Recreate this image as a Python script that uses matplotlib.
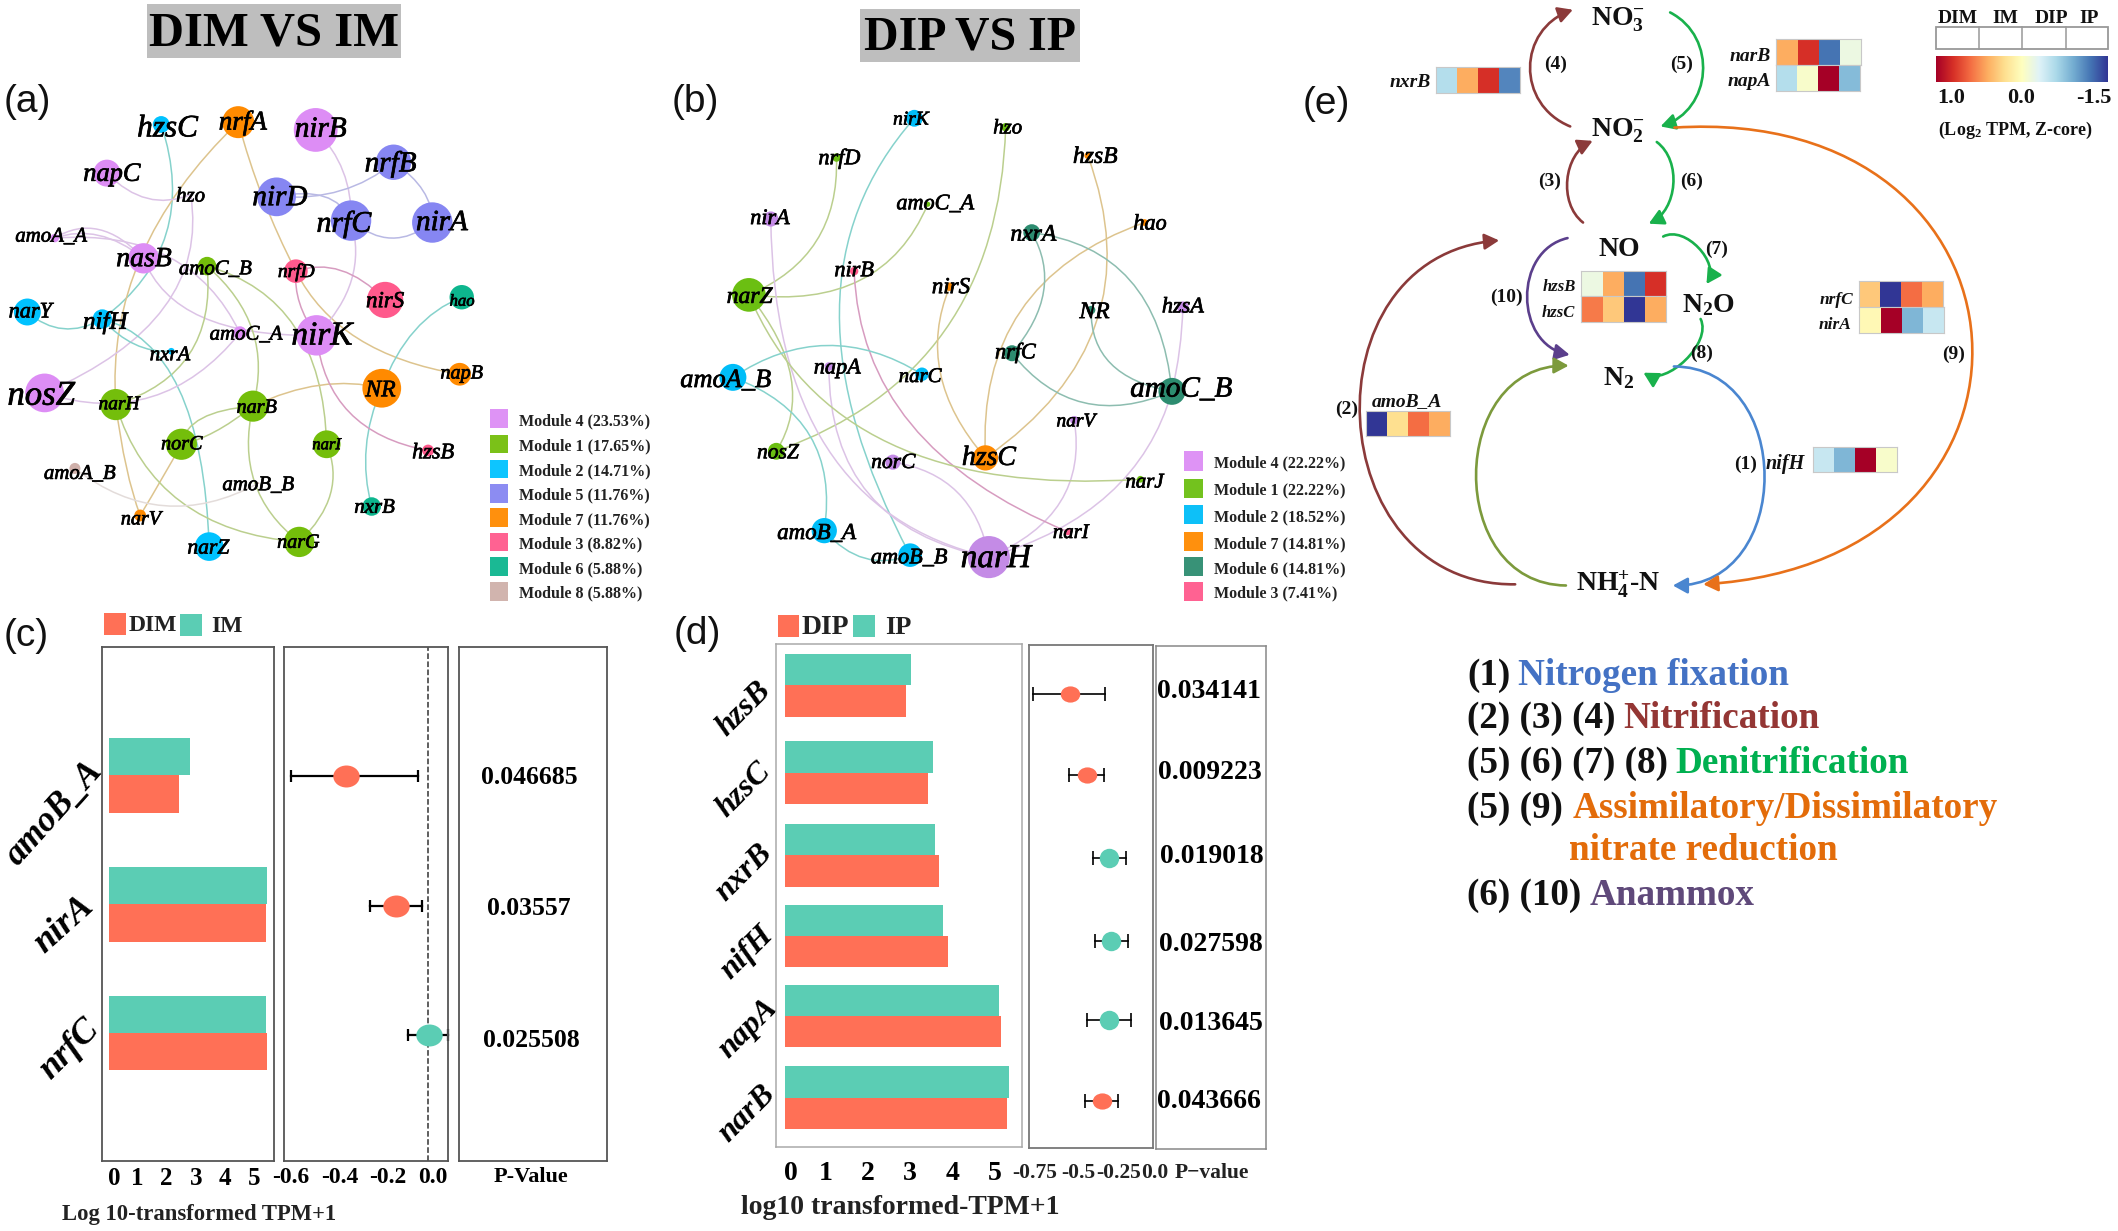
import matplotlib
matplotlib.use("Agg")
import matplotlib.pyplot as plt
import numpy as np
from matplotlib.path import Path
from matplotlib.patches import PathPatch, FancyArrowPatch, Rectangle, Circle
from matplotlib import patheffects as pe

plt.rcParams['font.family'] = ['Liberation Serif', 'DejaVu Serif']
plt.rcParams['mathtext.fontset'] = 'custom'
plt.rcParams['mathtext.bf'] = 'Liberation Serif:bold'
plt.rcParams['mathtext.rm'] = 'Liberation Serif:bold'
plt.rcParams['mathtext.it'] = 'Liberation Serif:italic:bold'

W, H = 2118, 1231

# ---------- data ----------
a_legend = ['Module 4 (23.53%)', 'Module 1 (17.65%)', 'Module 2 (14.71%)', 'Module 5 (11.76%)',
            'Module 7 (11.76%)', 'Module 3 (8.82%)', 'Module 6 (5.88%)', 'Module 8 (5.88%)']
b_legend = ['Module 4 (22.22%)', 'Module 1 (22.22%)', 'Module 2 (18.52%)', 'Module 7 (14.81%)',
            'Module 6 (14.81%)', 'Module 3 (7.41%)']
a_modules = {4: ['napC', 'nirB', 'amoA_A', 'nasB', 'amoC_A', 'nirK', 'nosZ'],
             1: ['amoC_B', 'narH', 'narB', 'norC', 'narI', 'narG'],
             2: ['hzsC', 'narY', 'nifH', 'nxrA', 'narZ'],
             5: ['nrfB', 'nirD', 'nrfC', 'nirA'],
             7: ['nrfA', 'napB', 'NR', 'narV'],
             3: ['nrfD', 'nirS', 'hzsB'],
             6: ['hao', 'nxrB'],
             8: ['amoA_B', 'amoB_B'],
             0: ['hzo']}
b_modules = {4: ['nirA', 'hzsA', 'napA', 'narV', 'norC', 'narH'],
             1: ['hzo', 'nrfD', 'amoC_A', 'narZ', 'nosZ', 'narJ'],
             2: ['nirK', 'narC', 'amoA_B', 'amoB_A', 'amoB_B'],
             7: ['hzsB', 'hao', 'nirS', 'hzsC'],
             6: ['nxrA', 'NR', 'nrfC', 'amoC_B'],
             3: ['nirB', 'narI']}

c_genes = ['amoB_A', 'nirA', 'nrfC']
c_dim = [2.44, 5.43, 5.45]
c_im = [2.79, 5.44, 5.42]
c_diff = [-0.36, -0.139, 0.002]
c_low = [-0.60, -0.255, -0.09]
c_high = [-0.046, -0.025, 0.086]
c_pval = ['0.046685', '0.03557', '0.025508']

d_genes = ['hzsB', 'hzsC', 'nxrB', 'nifH', 'napA', 'narB']
d_dip = [2.89, 3.41, 3.66, 3.88, 5.14, 5.29]
d_ip = [3.00, 3.52, 3.57, 3.76, 5.09, 5.32]
d_diff = [-0.53, -0.425, -0.287, -0.269, -0.282, -0.33]
d_low = [-0.76, -0.537, -0.384, -0.371, -0.42, -0.435]
d_high = [-0.31, -0.315, -0.179, -0.166, -0.146, -0.228]
d_pval = ['0.034141', '0.009223', '0.019018', '0.027598', '0.013645', '0.043666']

heat_nxrB = [[-0.7, 0.25, 0.75, -1.17]]
heat_narB = [[0.25, 0.75, -1.25, -0.4]]
heat_napA = [[-0.7, -0.3, 1.0, -0.92]]
heat_hzsB = [[-0.4, 0.25, -1.25, 0.75]]
heat_hzsC = [[0.45, 0.12, -1.5, 0.25]]
heat_nrfC = [[0.12, -1.5, 0.5, 0.25]]
heat_nirA = [[-0.2, 1.0, -0.95, -0.62]]
heat_amoB_A = [[-1.5, 0.0, 0.5, 0.25]]
heat_nifH = [[-0.62, -0.95, 1.0, -0.3]]

# ---------- layout (image coordinates of zoomed crops) ----------
a_xy = dict(hzsC=(383, 320, 20, 398, 325, 22.5), nrfA=(566, 314, 38, 577, 310, 19.5), nirB=(750, 334, 52, 762, 327, 21),
            nrfB=(935, 417, 42, 928, 415, 21), napC=(254, 445, 32, 266, 443, 19), hzo=(453, 500, 0, 453, 500, 15),
            nirD=(657, 506, 46, 665, 503, 21), nrfC=(834, 567, 48, 817, 570, 21.5), nirA=(1027, 572, 48, 1050, 567, 21),
            amoA_A=(130, 612, 10, 122, 603, 15), nasB=(341, 664, 36, 342, 661, 20), amoC_B=(492, 684, 22, 512, 687, 15),
            nrfD=(703, 697, 28, 704, 693, 14), nirS=(915, 771, 43, 915, 769, 16.5), hao=(1097, 764, 29, 1098, 769, 12),
            narY=(65, 802, 32, 72, 798, 16), nifH=(243, 820, 23, 250, 822, 18), amoC_A=(570, 856, 16, 585, 855, 15),
            nirK=(752, 862, 48, 765, 858, 24), nxrA=(407, 903, 8, 404, 908, 15), napB=(1092, 962, 27, 1097, 955, 14.5),
            NR=(907, 998, 46, 904, 998, 17), nosZ=(106, 1010, 46, 98, 1012, 25), narH=(275, 1040, 37, 283, 1034, 14),
            narB=(601, 1044, 37, 610, 1043, 14.5), norC=(431, 1142, 37, 432, 1137, 14.5), narI=(776, 1142, 33, 776, 1138, 12),
            hzsB=(1017, 1158, 14, 1029, 1160, 16), amoA_B=(178, 1204, 13, 190, 1213, 15), amoB_B=(614, 1242, 2, 614, 1242, 15),
            narV=(333, 1325, 14, 335, 1330, 14.5), nxrB=(883, 1302, 22, 890, 1300, 15), narZ=(497, 1405, 34, 495, 1405, 15.5),
            narG=(711, 1393, 36, 709, 1390, 14.5))
b_xy = dict(nirK=(628, 304, 20, 620, 302, 14), hzo=(845, 327, 10, 850, 325, 15), nrfD=(443, 405, 10, 450, 403, 16),
            hzsB=(1040, 400, 8, 1058, 398, 17), nirA=(287, 563, 18, 285, 558, 16), amoC_A=(660, 525, 6, 678, 520, 16),
            hao=(1175, 572, 8, 1188, 572, 16), nxrA=(907, 598, 20, 911, 598, 17), nirB=(485, 697, 10, 485, 692, 16),
            nirS=(712, 737, 10, 715, 733, 16.5), narZ=(235, 758, 40, 237, 758, 17), hzsA=(1266, 790, 14, 1266, 785, 16),
            NR=(1048, 797, 10, 1056, 797, 17), nrfC=(860, 908, 19, 868, 902, 16), napA=(425, 942, 10, 445, 942, 16),
            narC=(646, 962, 16, 642, 964, 15), amoA_B=(197, 970, 32, 180, 973, 19), amoC_B=(1240, 1006, 32, 1262, 995, 21),
            narV=(1008, 1080, 10, 1012, 1078, 14), nosZ=(300, 1160, 20, 304, 1160, 15.5), hzsC=(797, 1177, 30, 805, 1172, 20),
            norC=(577, 1188, 18, 578, 1185, 15.5), narJ=(1165, 1232, 8, 1175, 1235, 15), amoB_A=(414, 1364, 30, 396, 1365, 16.5),
            narI=(993, 1367, 8, 1000, 1365, 15), amoB_B=(618, 1427, 28, 616, 1430, 16), narH=(805, 1432, 50, 822, 1430, 24))

PUR, TAN, TEA, BLU, OLI, PNK, GRY = '#DCC3E6', '#DDC48E', '#86D2CC', '#B9B9E4', '#BBCF8E', '#D79CC0', '#E3DCDA'
a_edges = [('hzsC', 'nifH', 395, 600, TEA), ('nrfA', 'narH', 335, 660, TAN), ('nrfA', 'nrfD', 625, 510, TAN),
           ('nrfD', 'napB', 850, 870, TAN), ('nirB', 'nrfC', 815, 440, PUR), ('nrfB', 'nirD', 810, 490, BLU),
           ('nrfB', 'nirA', 1005, 490, BLU), ('nirD', 'nrfC', 770, 505, BLU), ('nrfC', 'nirA', 930, 612, BLU),
           ('nrfC', 'nirK', 835, 720, PUR), ('napC', 'hzo', 350, 510, PUR), ('hzo', 'nosZ', 390, 790, PUR),
           ('amoA_A', 'nasB', 235, 590, PUR), ('amoA_A', 'nasB', 235, 605, PUR), ('amoA_A', 'amoC_A', 400, 660, PUR),
           ('nasB', 'nirK', 480, 815, PUR), ('amoC_B', 'narB', 600, 850, OLI), ('amoC_B', 'narH', 450, 910, OLI),
           ('amoC_B', 'narI', 700, 840, OLI), ('nrfD', 'nirS', 810, 695, PNK), ('nrfD', 'nirK', 712, 780, PNK),
           ('hao', 'NR', 985, 850, TEA), ('NR', 'nxrB', 870, 1150, TEA), ('NR', 'narB', 760, 990, TAN),
           ('nirK', 'hzsB', 830, 1060, PNK), ('narY', 'nifH', 150, 845, TEA), ('nifH', 'nxrA', 320, 885, TEA),
           ('nifH', 'narZ', 425, 1000, TEA), ('amoC_A', 'nosZ', 360, 1020, PUR), ('narB', 'norC', 480, 1075, OLI),
           ('narB', 'norC', 510, 1110, OLI), ('narH', 'narV', 300, 1200, TAN), ('norC', 'narV', 385, 1230, TAN),
           ('narH', 'narG', 430, 1290, OLI), ('narB', 'narG', 605, 1240, OLI), ('narI', 'narG', 785, 1270, OLI),
           ('amoA_B', 'amoB_B', 390, 1300, GRY)]
b_edges = [('nirK', 'amoB_B', 450, 800, TEA), ('hzo', 'nosZ', 700, 850, OLI), ('nrfD', 'narZ', 395, 620, OLI),
           ('amoC_A', 'narZ', 500, 720, OLI), ('hzsB', 'hzsC', 1060, 830, TAN), ('hao', 'hzsC', 880, 800, TAN),
           ('nirS', 'hzsC', 690, 960, TAN), ('nxrA', 'nrfC', 935, 750, '#8DBDB0'), ('nxrA', 'amoC_B', 1140, 720, '#8DBDB0'),
           ('NR', 'amoC_B', 1095, 935, '#8DBDB0'), ('nrfC', 'amoC_B', 1030, 1035, '#8DBDB0'), ('hzsA', 'amoC_B', 1258, 900, PUR),
           ('amoC_B', 'narH', 1090, 1270, PUR), ('narV', 'narH', 975, 1290, PUR), ('norC', 'narH', 730, 1265, PUR),
           ('napA', 'narH', 520, 1270, PUR), ('nirA', 'narH', 420, 1150, PUR), ('nirB', 'narI', 620, 1090, PNK),
           ('narZ', 'nosZ', 335, 970, OLI), ('narZ', 'narJ', 570, 1140, OLI), ('amoA_B', 'narC', 420, 888, TEA),
           ('amoA_B', 'amoB_A', 380, 1120, TEA), ('amoB_A', 'amoB_B', 510, 1435, TEA)]

a_col = {4: '#DD8DF5', 1: '#74BE0B', 2: '#00C2FF', 5: '#8686F2', 7: '#FF8A00', 3: '#FF5A8C', 6: '#0DB68E', 8: '#CFB0AA', 0: '#FFFFFF'}
b_col = {4: '#C48BE6', 1: '#6BBF12', 2: '#00BDF8', 7: '#FF8A00', 6: '#2D8C70', 3: '#FF5A8C'}
b_key = {**b_col, 4: '#DD8DF5'}
CORAL, TEAL = '#FF7056', '#5BCDB4'
FX1, FY1 = 1568 / 660, 1568 / 610      # crop scale of panels a, b
FX3, FY3 = 1568 / 838, 1568 / 610      # crop scale of panel e
FX4, FY4 = 1568 / 640, 1568 / 631      # crop scale of panels c, d
TXT_DY = 2.5                            # centred text sits slightly high otherwise

fig = plt.figure(figsize=(W / 100, H / 100), dpi=100, facecolor='white')


def px_axes(x0, y0, x1, y1):
    return fig.add_axes([x0 / W, 1 - y1 / H, (x1 - x0) / W, (y1 - y0) / H])


ov = fig.add_axes([0, 0, 1, 1], zorder=0)
ov.set_xlim(0, W)
ov.set_ylim(H, 0)
ov.axis('off')
top = fig.add_axes([0, 0, 1, 1], zorder=5)
top.set_xlim(0, W)
top.set_ylim(H, 0)
top.axis('off')
top.patch.set_alpha(0)


def T(ax, x, y, s, **kw):
    return ax.text(x, y + TXT_DY, s, **kw)


def curve_via(ax, p0, via, p1, color, lw=1.1):
    p0, via, p1 = np.array(p0), np.array(via), np.array(p1)
    c = 2 * via - 0.5 * (p0 + p1)
    ax.add_patch(PathPatch(Path([p0, c, p1], [Path.MOVETO, Path.CURVE3, Path.CURVE3]),
                           fc='none', ec=color, lw=lw, zorder=2))


def network(xy, modules, cols, edges, ox):
    conv = lambda x, y: (ox + x / FX1, y / FY1)
    mod = {n: m for m, ns in modules.items() for n in ns}
    for a, b, vx, vy, c in edges:
        curve_via(ov, conv(*xy[a][:2]), conv(vx, vy), conv(*xy[b][:2]), c)
    for n, (x, y, r, lx, ly, fs) in xy.items():
        if r > 0:
            ov.add_patch(Circle(conv(x, y), r / FX1, fc=cols[mod[n]], ec='none', zorder=3))
        tx, ty = conv(lx, ly)
        T(ov, tx, ty, n, style='italic', fontsize=fs, ha='center', va='center', zorder=4, color='black',
          path_effects=[pe.withStroke(linewidth=0.5, foreground='black')])


network(a_xy, a_modules, a_col, a_edges, 0)
network(b_xy, b_modules, b_col, b_edges, 650)


def mod_legend(labels, col_keys, cols, sx, ys, size, tx, ox):
    for lab, k, y in zip(labels, col_keys, ys):
        ov.add_patch(Rectangle((ox + sx / FX1, y / FY1 - size / FX1 / 2), size / FX1, size / FX1, fc=cols[k], ec='none', alpha=.95))
        T(ov, ox + tx / FX1, y / FY1, lab, fontsize=11.5, fontweight='bold', ha='left', va='center', color='#222222')


mod_legend(a_legend, [4, 1, 2, 5, 7, 3, 6, 8], a_col, 1164, [1076, 1141, 1205, 1268, 1330, 1393, 1456, 1520], 44, 1232, 0)
mod_legend(b_legend, [4, 1, 2, 7, 6, 3], b_key, 1268, [1185, 1255, 1323, 1392, 1456, 1520], 46, 1340, 650)

# titles
for (x0, y0, x1, y1, s, fs) in [(147, 4, 401, 58, 'DIM VS IM', 35), (860, 9, 1080, 62, 'DIP VS IP', 34.5)]:
    ov.add_patch(Rectangle((x0, y0), x1 - x0, y1 - y0, fc='#BEBEBE', ec='none'))
    T(ov, (x0 + x1) / 2, (y0 + y1) / 2, s, fontsize=fs, fontweight='bold', ha='center', va='center', color='black')

for s, x, y in [('(a)', 27, 100), ('(b)', 695, 99), ('(c)', 26, 633), ('(d)', 697, 632), ('(e)', 1326, 102)]:
    T(ov, x, y, s, fontsize=28, family=['Liberation Sans'], ha='center', va='center', color='#111111')


def style_axes(ax, col, lw):
    for s in ax.spines.values():
        s.set_color(col)
        s.set_linewidth(lw)
    ax.tick_params(length=0)
    ax.set_yticks([])


def ellipse(wx, wy):
    return Path.unit_circle().transformed(matplotlib.transforms.Affine2D().scale(wx, wy))


# ---------- panel c ----------
z = lambda x, y: (x / FX4, 600 + y / FY4)
(x0, y0), (x1, y1) = z(249, 116), z(671, 1394)
ax = px_axes(x0, y0, x1, y1)
rows = np.arange(3)
ax.barh(rows - 0.145, c_im, 0.29, color=TEAL)
ax.barh(rows + 0.145, c_dim, 0.29, color=CORAL)
ax.set_xlim(-0.24, 5.69)
ax.set_ylim(2.994, -1.0)
style_axes(ax, '#555555', 1.3)
ax.set_xticks([0.21, 1, 2, 3, 4, 5], ['0', '1', '2', '3', '4', '5'], fontsize=18, fontweight='bold')
ax.tick_params(axis='x', pad=4)

(x0, y0), (x1, y1) = z(695, 116), z(1097, 1394)
ax = px_axes(x0, y0, x1, y1)
ax.axvline(0, color='#333333', ls='--', lw=1.1, zorder=1)
for i in rows:
    col = TEAL if c_diff[i] > 0 else CORAL
    ax.plot([c_low[i], c_high[i]], [i, i], color='black', lw=1.6, zorder=2, clip_on=False)
    for e in (c_low[i], c_high[i]):
        ax.plot([e], [i], marker='|', color='black', ms=8, mew=1.6, zorder=2, clip_on=False)
    ax.plot([c_diff[i]], [i], marker=ellipse(1.2, 1), ms=19, color=col, mec='none', zorder=3, clip_on=False)
ax.set_xlim(-0.631, 0.0856)
ax.set_ylim(2.969, -1.0)
style_axes(ax, '#555555', 1.3)
ax.set_xticks([-0.6, -0.384, -0.176, 0.02], ['-0.6', '-0.4', '-0.2', '0.0'], fontsize=17, fontweight='bold')
ax.tick_params(axis='x', pad=4)

(x0, y0), (x1, y1) = z(1124, 116), z(1488, 1394)
ax = px_axes(x0, y0, x1, y1)
style_axes(ax, '#555555', 1.3)
ax.set_xticks([])
for s, (x, y) in zip(c_pval, [(1298, 436), (1295, 760), (1303, 1088)]):
    T(top, *z(x, y), s, fontsize=18.5, fontweight='bold', ha='center', va='center')
T(ov, *z(1300, 1428), 'P-Value', fontsize=16, fontweight='bold', ha='center', va='center')
T(ov, *z(488, 1522), 'Log 10-transformed TPM+1', fontsize=16.3, fontweight='bold', ha='center', va='center', color='#222222')
for g, (x, y), fs, rot in zip(c_genes, [(132, 525), (157, 800), (170, 1110)], [25.5, 26, 26], [48, 42, 45]):
    T(ov, *z(x, y), g, fontsize=fs, style='italic', fontweight='bold', rotation=rot, ha='center', va='center')
for (sx, sy, tx, s) in [(254, 32, 375, 'DIM'), (441, 34, 555, 'IM')]:
    ov.add_patch(Rectangle(z(sx, sy), 54 / FX4, 55 / FY4, fc=CORAL if s == 'DIM' else TEAL, ec='none'))
    T(ov, *z(tx, sy + 26), s, fontsize=17, fontweight='bold', ha='center', va='center', color='#222222')

# ---------- panel d ----------
z = lambda x, y: (640 + x / FX4, 600 + y / FY4)
d_bar_rows = np.array([0, 1.06, 2.06, 3.04, 4.01, 5.0])
d_pt_rows = np.array([0, 0.993, 2.016, 3.04, 4.0, 5.0])
(x0, y0), (x1, y1) = z(333, 110), z(937, 1360)
ax = px_axes(x0, y0, x1, y1)
ax.barh(d_bar_rows - 0.19, d_ip, 0.38, color=TEAL)
ax.barh(d_bar_rows + 0.19, d_dip, 0.38, color=CORAL)
ax.set_xlim(-0.214, 5.65)
ax.set_ylim(5.6, -0.4976)
style_axes(ax, '#AAAAAA', 1.1)
ax.set_xticks([0.146, 0.97, 1.96, 2.96, 3.98, 4.98], ['0', '1', '2', '3', '4', '5'], fontsize=20, fontweight='bold')
ax.tick_params(axis='x', pad=10)

(x0, y0), (x1, y1) = z(954, 112), z(1257, 1362)
ax = px_axes(x0, y0, x1, y1)
for i, r in enumerate(d_pt_rows):
    col = TEAL if d_diff[i] > -0.3 else CORAL
    ax.plot([d_low[i], d_high[i]], [r, r], color='black', lw=1.2, zorder=2)
    for e in (d_low[i], d_high[i]):
        ax.plot([e], [r], marker='|', color='black', ms=10, mew=1.2, zorder=2)
    ax.plot([d_diff[i]], [r], marker=ellipse(1.2, 1) if col == CORAL else 'o', ms=14, color=col, mec='none', zorder=3)
ax.set_xlim(-0.785, -0.0077)
ax.set_ylim(5.578, -0.598)
style_axes(ax, '#777777', 1.3)
ax.set_xticks([])
for s, x in zip(['-0.75', '-0.5', '-0.25', '0.0'], [967, 1075, 1173, 1260]):
    T(ov, *z(x, 1418), s, fontsize=15.5, fontweight='bold', ha='center', va='center', color='#222222')

(x0, y0), (x1, y1) = z(1265, 115), z(1533, 1363)
ax = px_axes(x0, y0, x1, y1)
style_axes(ax, '#888888', 1.1)
ax.set_xticks([])
for s, (x, y) in zip(d_pval, [(1395, 222), (1395, 422), (1400, 631), (1398, 849), (1400, 1045), (1395, 1241)]):
    T(top, *z(x, y), s, fontsize=20, fontweight='bold', ha='center', va='center')
T(ov, *z(1400, 1418), 'P\u2212value', fontsize=15.5, fontweight='bold', ha='center', va='center', color='#222222')
T(ov, *z(637, 1503), 'log10 transformed-TPM+1', fontsize=20, fontweight='bold', ha='center', va='center', color='#222222')
for g, (x, y) in zip(d_genes, [(255, 265), (255, 465), (255, 672), (263, 870), (265, 1060), (262, 1270)]):
    T(ov, *z(x, y), g, fontsize=23, style='italic', fontweight='bold', rotation=45, ha='center', va='center')
ov.add_patch(Rectangle(z(338, 38), 52 / FX4, 54 / FY4, fc=CORAL, ec='none'))
ov.add_patch(Rectangle(z(522, 37), 53 / FX4, 54 / FY4, fc=TEAL, ec='none'))
T(ov, *z(453, 63), 'DIP', fontsize=20, fontweight='bold', ha='center', va='center', color='#222222')
T(ov, *z(632, 63), 'IP', fontsize=19, fontweight='bold', ha='center', va='center', color='#222222')

# ---------- panel e ----------
z = lambda x, y: (1280 + x / FX3, y / FY3)
for s, (x, y), fs in [(r'$\mathbf{NO_3^{-}}$', (632, 45), 20), (r'$\mathbf{NO_2^{-}}$', (632, 330), 20), ('NO', (634, 636), 20),
                      (r'$\mathbf{N_2O}$', (802, 778), 20), (r'$\mathbf{N_2}$', (634, 965), 20), (r'$\mathbf{NH_4^{+}}$-N', (632, 1495), 20)]:
    T(ov, *z(x, y), s, fontsize=fs, fontweight='bold', ha='center', va='center', color='#111111')

arcs = [((543, 325), (548, 25), -1, 77, 0.18, '#8B3A3A'), ((730, 32), (712, 325), 1, 70, 0.18, '#19B14C'),
        ((567, 572), (585, 362), -1, 38, 0.2, '#8B3A3A'), ((705, 365), (690, 575), 1, 38, 0.2, '#19B14C'),
        ((717, 608), (798, 730), 1, 34, 0.1, '#19B14C'), ((787, 820), (680, 958), 1, 36, 0.1, '#19B14C'),
        ((538, 612), (542, 912), -1, 77, 0.1, '#5B3F8C'), ((535, 1505), (540, 940), -1, 170, 0.0, '#7C9A3C'),
        ((737, 942), (735, 1505), 1, 170, 0.0, '#4A86D0'), ((440, 1502), (410, 618), -1, 275, 0.02, '#8B3A3A'),
        ((738, 328), (792, 1502), 1, 530, 0.0, '#E8711A')]
for p0, p1, side, off, t, col in arcs:
    a, b = np.array(z(*p0)), np.array(z(*p1))
    chord = b - a
    n = np.array([chord[1], -chord[0]]) / np.hypot(*chord)
    # side>0 bulges right on the image, side<0 left
    if abs(n[0]) > 0.3:
        n = n * np.sign(n[0]) * side
    else:
        n = n * np.sign(n[1]) * (-side)
    d = off / FX3 / 0.75
    c1, c2 = a + n * d + t * chord, b + n * d - t * chord
    pa = FancyArrowPatch(path=Path([a, c1, c2, b], [Path.MOVETO, Path.CURVE4, Path.CURVE4, Path.CURVE4]),
                         arrowstyle='-|>,head_length=0.55,head_width=0.3', mutation_scale=16, lw=1.9, color=col,
                         transform=ov.transData, zorder=2, shrinkA=0, shrinkB=0)
    ov.add_patch(pa)

for s, x, y in [('(4)', 516, 160), ('(5)', 752, 160), ('(3)', 504, 460), ('(6)', 770, 460), ('(7)', 816, 635), ('(10)', 423, 757),
                ('(8)', 788, 902), ('(9)', 1260, 905), ('(2)', 124, 1045), ('(1)', 872, 1187)]:
    T(ov, *z(x, y), s, fontsize=14, fontweight='bold', ha='center', va='center', color='#111111')


def heat(vals, x0, y0, x1, y1):
    (a, b), (c, d) = z(x0, y0), z(x1, y1)
    ax_ = px_axes(a, b, c, d)
    ax_.pcolormesh(np.array(vals), cmap='RdYlBu_r', vmin=-1.5, vmax=1.0, edgecolors='none')
    ax_.set_xticks([])
    ax_.set_yticks([])
    for sp in ax_.spines.values():
        sp.set_color('#C8C8C8')
        sp.set_linewidth(0.8)


heat(heat_nxrB, 292, 172, 449, 238)
heat(heat_narB, 929, 101, 1087, 168)
heat(heat_napA, 929, 168, 1085, 235)
heat(heat_hzsB, 564, 696, 722, 762)
heat(heat_hzsC, 564, 762, 722, 828)
heat(heat_nrfC, 1084, 722, 1241, 788)
heat(heat_nirA, 1084, 790, 1243, 856)
heat(heat_amoB_A, 161, 1056, 319, 1122)
heat(heat_nifH, 997, 1148, 1154, 1214)
for s, x, y, fs in [('nxrB', 243, 205, 14), ('narB', 880, 138, 14), ('napA', 878, 203, 14), ('hzsB', 522, 731, 12), ('hzsC', 520, 798, 12),
                    ('nrfC', 1041, 766, 12.5), ('nirA', 1038, 830, 12.5), ('amoB_A', 237, 1025, 14), ('nifH', 946, 1185, 14.5)]:
    T(ov, *z(x, y), s, fontsize=fs, style='italic', fontweight='bold', ha='center', va='center', color='#111111')

# colour key
(a, b), (c, d) = z(1227, 145), z(1547, 210)
ax = px_axes(a, b, c, d)
ax.imshow(np.linspace(1.0, -1.5, 256)[None, :], cmap='RdYlBu_r', vmin=-1.5, vmax=1.0, aspect='auto')
ax.axis('off')
(a, b), (c, d) = z(1227, 70), z(1550, 126)
ov.add_patch(Rectangle((a, b), c - a, d - b, fc='white', ec='#999999', lw=1.3))
for x in (1308, 1389, 1470):
    ov.plot([z(x, 0)[0]] * 2, [b, d], color='#999999', lw=1.1)
for s, x in [('DIM', 1268), ('IM', 1358), ('DIP', 1444), ('IP', 1514)]:
    T(ov, *z(x, 40), s, fontsize=14, fontweight='bold', ha='center', va='center', color='#111111')
for s, x in [('1.0', 1255), ('0.0', 1387), ('-1.5', 1523)]:
    T(ov, *z(x, 245), s, fontsize=16, fontweight='bold', ha='center', va='center', color='#111111')
T(ov, *z(1375, 328), r'(Log$\mathbf{_2}$ TPM, Z-core)', fontsize=13, fontweight='bold', ha='center', va='center', color='#111111')

# pathway list
BL, BR, GR, OR, PU = '#4472C4', '#943634', '#00B050', '#E36C0A', '#5F497A'
path_lines = [(673, '(1)', 1518, 'Nitrogen fixation', BL), (716, '(2) (3) (4)', 1623, 'Nitrification', BR),
              (761, '(5) (6) (7) (8)', 1675, 'Denitrification', GR), (806, '(5) (9)', 1573, 'Assimilatory/Dissimilatory', OR),
              (848, '', 1569, 'nitrate reduction', OR), (893, '(6) (10)', 1590, 'Anammox', PU)]
for y, lead, x, s, col in path_lines:
    if lead:
        T(ov, 1467, y, lead, fontsize=26.7, fontweight='bold', ha='left', va='center', color='#111111')
    T(ov, x, y, s, fontsize=26.7, fontweight='bold', ha='left', va='center', color=col)

fig.savefig('out.png', dpi=100, facecolor='white')
